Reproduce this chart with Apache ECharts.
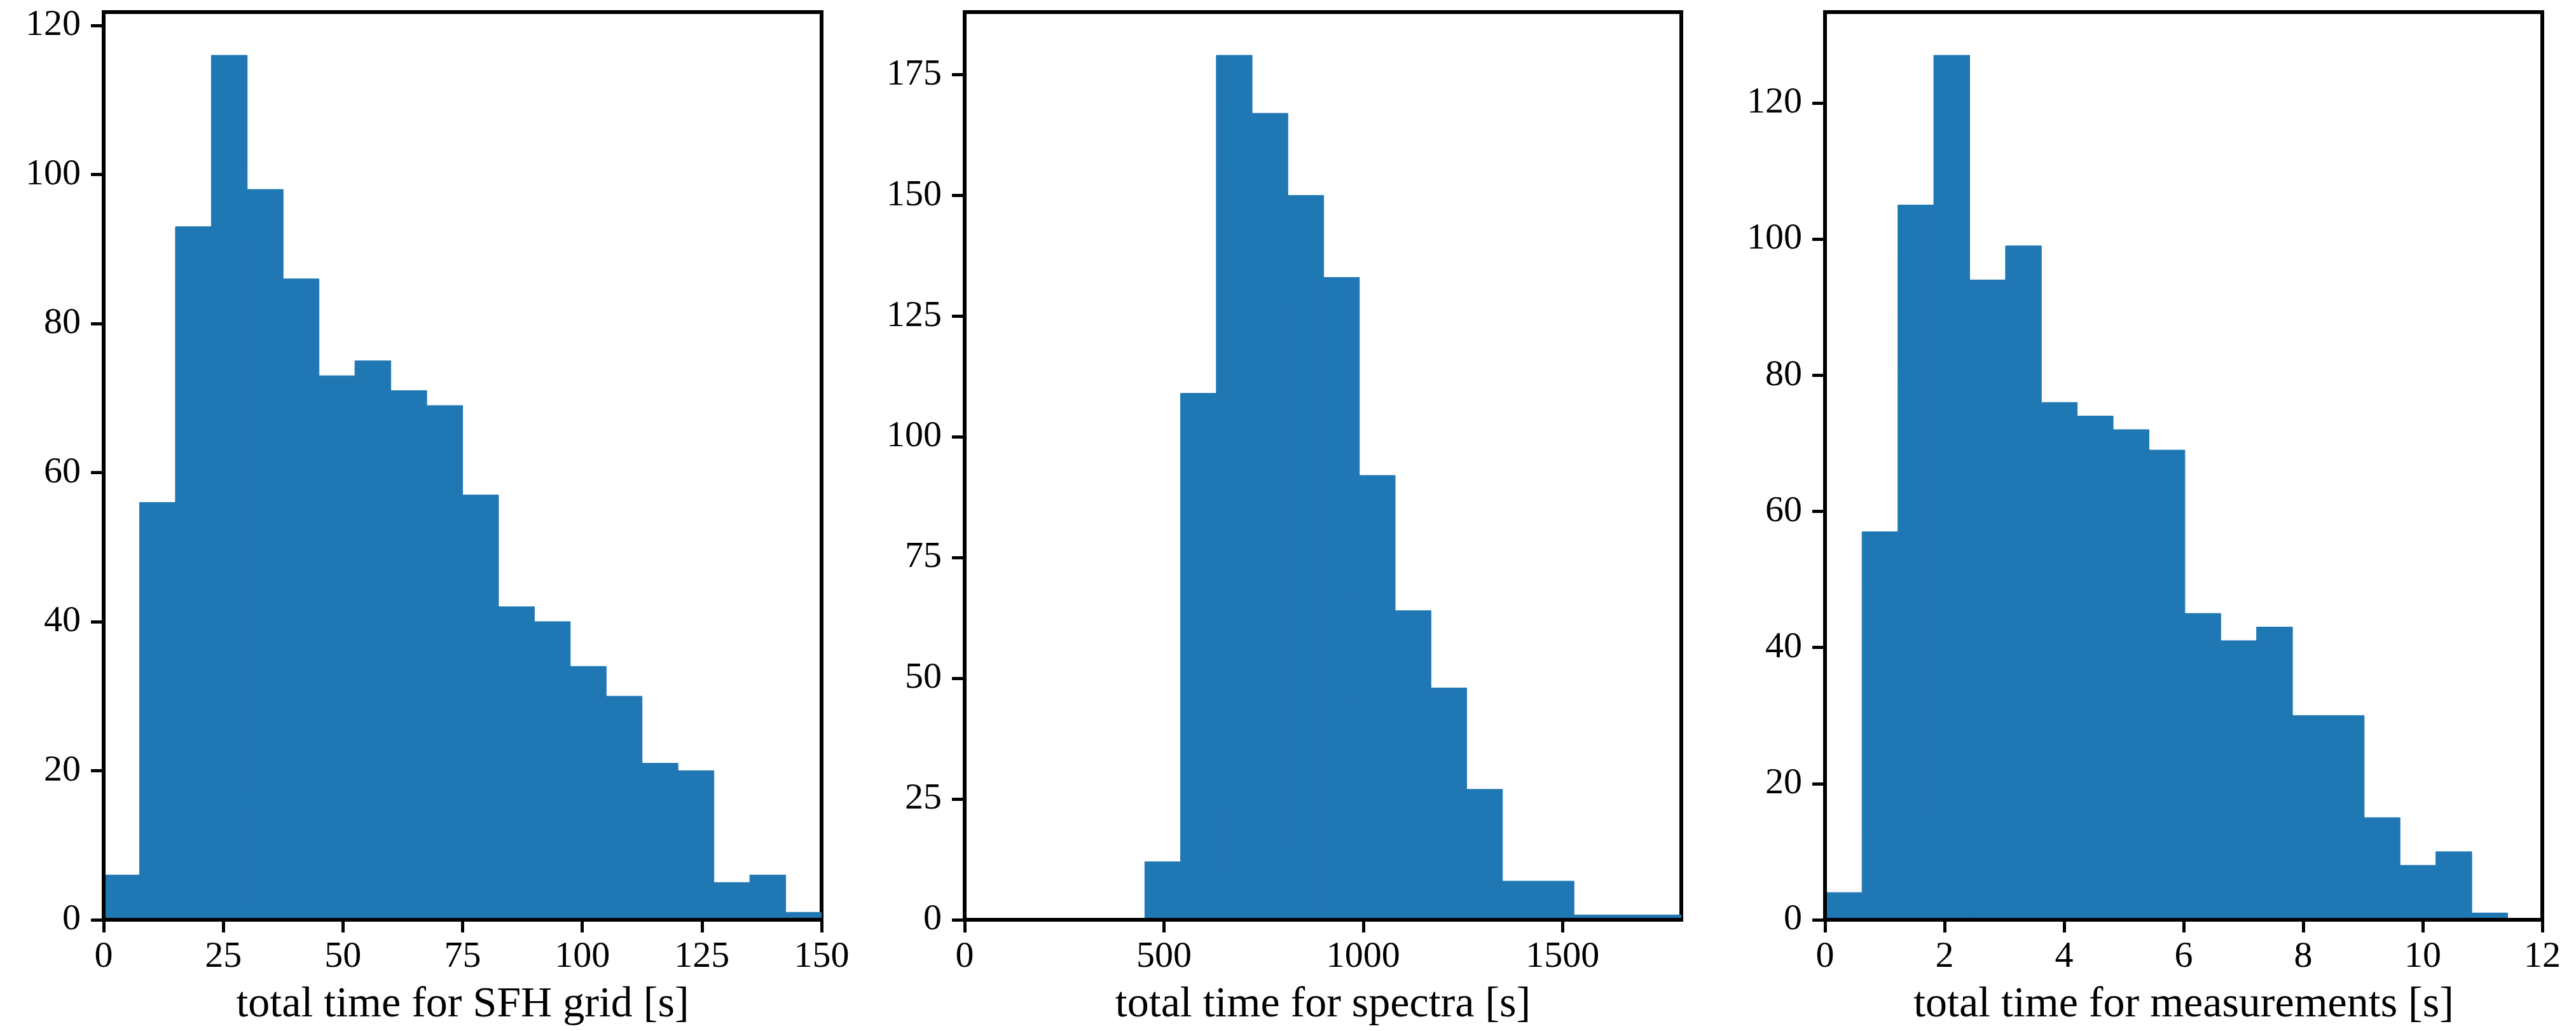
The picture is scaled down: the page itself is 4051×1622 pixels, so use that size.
<!DOCTYPE html>
<html>
<head>
<meta charset="utf-8">
<title>timing histograms</title>
<script src="https://cdn.jsdelivr.net/npm/echarts@6/dist/echarts.min.js"></script>
<style>
    html, body { margin: 0; padding: 0; background: #fff; }
    #timeHist { width: 4051px; height: 1622px; }
</style>
</head>
<body>
<div id="timeHist"></div>
<script>
// bin edges + counts
var sfhEdges = [0, 7.5, 15, 22.5, 30, 37.5, 45, 52.5, 60, 67.5, 75, 82.5, 90, 97.5, 105, 112.5, 120, 127.5, 135, 142.5, 150];
var sfhCounts = [6, 56, 93, 116, 98, 86, 73, 75, 71, 69, 57, 42, 40, 34, 30, 21, 20, 5, 6, 1];

var specEdges = [452, 541.7, 631.5, 721.2, 810.9, 900.7, 990.4, 1080.1, 1169.9, 1259.6, 1349.3, 1439.1, 1528.8, 1618.5, 1708.3, 1798];
var specCounts = [12, 109, 179, 167, 150, 133, 92, 64, 48, 27, 8, 8, 1, 1, 1];

var measEdges = [0.02, 0.62, 1.22, 1.82, 2.42, 3.02, 3.62, 4.22, 4.82, 5.42, 6.02, 6.62, 7.22, 7.82, 8.42, 9.02, 9.62, 10.22, 10.82, 11.42];
var measCounts = [4, 57, 105, 127, 94, 99, 76, 74, 72, 69, 45, 41, 43, 30, 30, 15, 8, 10, 1];

// axis ticks
var sfhXTicks = [0, 25, 50, 75, 100, 125, 150];
var sfhYTicks = [0, 20, 40, 60, 80, 100, 120];
var specXTicks = [0, 500, 1000, 1500];
var specYTicks = [0, 25, 50, 75, 100, 125, 150, 175];
var measXTicks = [0, 2, 4, 6, 8, 10, 12];
var measYTicks = [0, 20, 40, 60, 80, 100, 120];

var xTitles = ['total time for SFH grid [s]', 'total time for spectra [s]', 'total time for measurements [s]'];

var barColor = '#1f77b4';
var fontName = 'Liberation Serif';

function histData(edges, counts) {
    return counts.map(function (c, i) {
        return [edges[i], edges[i + 1], c];
    });
}

// one rect per bin, from left edge to right edge
function renderBin(params, api) {
    var p0 = api.coord([api.value(0), 0]);
    var p1 = api.coord([api.value(1), api.value(2)]);
    return {
        type: 'rect',
        shape: { x: p0[0], y: p1[1], width: p1[0] - p0[0], height: p0[1] - p1[1] },
        style: { fill: barColor, stroke: barColor, lineWidth: 1 }
    };
}

// plain numbers, no thousands separator
function plainNum(v) {
    return String(v);
}

var panels = [
    { left: 163, width: 1129, xMax: 150, yMax: 121.8, xTicks: sfhXTicks, yTicks: sfhYTicks, data: histData(sfhEdges, sfhCounts) },
    { left: 1517, width: 1127, xMax: 1798, yMax: 187.95, xTicks: specXTicks, yTicks: specYTicks, data: histData(specEdges, specCounts) },
    { left: 2870, width: 1128, xMax: 12, yMax: 133.35, xTicks: measXTicks, yTicks: measYTicks, data: histData(measEdges, measCounts) }
];

var grid = [], xAxis = [], yAxis = [], series = [];
panels.forEach(function (p, i) {
    grid.push({
        left: p.left, top: 19, width: p.width, height: 1428,
        show: true, borderColor: '#000', borderWidth: 6, backgroundColor: '#fff'
    });
    xAxis.push({
        type: 'value', gridIndex: i, min: 0, max: p.xMax, z: 5,
        name: xTitles[i], nameLocation: 'middle', nameGap: 100,
        nameTextStyle: { fontFamily: fontName, fontSize: 68, color: '#000' },
        splitLine: { show: false },
        axisLine: { show: true, onZero: false, lineStyle: { color: '#000', width: 6 } },
        axisTick: { show: true, length: 20, lineStyle: { color: '#000', width: 5 }, customValues: p.xTicks },
        axisLabel: { fontFamily: fontName, fontSize: 58, color: '#000', margin: 30, formatter: plainNum, customValues: p.xTicks }
    });
    yAxis.push({
        type: 'value', gridIndex: i, min: 0, max: p.yMax, z: 5,
        splitLine: { show: false },
        axisLine: { show: true, onZero: false, lineStyle: { color: '#000', width: 6 } },
        axisTick: { show: true, length: 20, lineStyle: { color: '#000', width: 5 }, customValues: p.yTicks },
        axisLabel: { fontFamily: fontName, fontSize: 58, color: '#000', margin: 36, formatter: plainNum, customValues: p.yTicks }
    });
    series.push({
        type: 'custom',
        xAxisIndex: i,
        yAxisIndex: i,
        renderItem: renderBin,
        encode: { x: [0, 1], y: 2 },
        clip: true,
        data: p.data
    });
});

var option = {
    backgroundColor: '#fff',
    animation: false,
    grid: grid,
    xAxis: xAxis,
    yAxis: yAxis,
    series: series
};

var histChart = echarts.init(document.getElementById('timeHist'));
histChart.setOption(option);
</script>
</body>
</html>
